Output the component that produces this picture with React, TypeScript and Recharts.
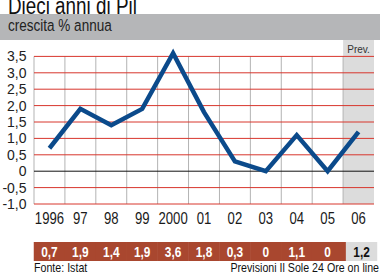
import { LineChart, Line, XAxis, YAxis, ReferenceLine, ReferenceArea } from "recharts";

const years = ["1996", "97", "98", "99", "2000", "01", "02", "03", "04", "05", "06"];
const growth = [0.7, 1.9, 1.4, 1.9, 3.6, 1.8, 0.3, 0, 1.1, 0, 1.2];
const forecastIndex = 10;
const yTicks = [-1, -0.5, 0, 0.5, 1, 1.5, 2, 2.5, 3, 3.5];

const SANS = '"Liberation Sans", Arial, sans-serif';

const data = years.map((year, i) => ({ i, year, v: growth[i] }));
const xTicks = years.map((_, i) => i);

const fmt = (v: number) => (v === 0 ? "0" : v.toFixed(1).replace(".", ","));

// no narrow face installed, so squeeze Liberation Sans horizontally
function NText({ x, y, size, anchor = "start", weight = "normal", fill = "#111", children }: any) {
  return (
    <text
      transform={`translate(${x},${y}) scale(0.82,1)`}
      textAnchor={anchor}
      fontFamily={SANS}
      fontSize={size}
      fontWeight={weight}
      fill={fill}
    >
      {children}
    </text>
  );
}

function YearTick(props: any) {
  const { x, y, payload } = props;
  return (
    <NText x={x} y={y + 11.5} size={16} anchor="middle" fill="#1a1a1a">
      {years[payload.value]}
    </NText>
  );
}

function TableTick(props: any) {
  const { x, y, payload } = props;
  const i = payload.value as number;
  const forecast = i === forecastIndex;
  const w = 31.4;
  // the grey forecast cell sits a few px right of its column in the original
  const left = forecast ? x - w / 2 + 3 : x - w / 2;
  const width = i === forecastIndex - 1 ? w + 3 : w;
  return (
    <g>
      <rect x={left} y={y + 8} width={width} height={19} fill={forecast ? "#dcdcdc" : "#a9472f"} />
      <NText x={forecast ? x + 3 : x} y={y + 22.7} size={14.5} anchor="middle" weight="bold" fill={forecast ? "#111" : "#fff"}>
        {fmt(growth[i])}
      </NText>
    </g>
  );
}

export default function App() {
  return (
    <div style={{ position: "relative", width: 380, height: 273, background: "#fff" }}>
      <style>{"body{margin:0}"}</style>
      <LineChart width={380} height={273} data={data} margin={{ top: 40, right: 6, bottom: 0, left: 0 }}>
        <XAxis
          dataKey="i"
          type="number"
          domain={[-0.5, 10.5]}
          ticks={xTicks}
          axisLine={false}
          tickLine={false}
          tickSize={0}
          tickMargin={8}
          height={30}
          interval={0}
          tick={<YearTick />}
        />
        <XAxis
          xAxisId="table"
          dataKey="i"
          type="number"
          domain={[-0.5, 10.5]}
          ticks={xTicks}
          axisLine={false}
          tickLine={false}
          tickSize={0}
          tickMargin={0}
          height={39}
          interval={0}
          tick={<TableTick />}
        />
        <YAxis
          type="number"
          domain={[-1, 4]}
          ticks={yTicks}
          tickFormatter={fmt}
          axisLine={false}
          tickLine={false}
          tickSize={0}
          tickMargin={7.5}
          width={34}
          interval={0}
          tick={{ fontFamily: SANS, fontSize: 14, fill: "#222" }}
        />
        <ReferenceArea
          x1={forecastIndex - 0.5}
          x2={forecastIndex + 0.5}
          y1={-1}
          y2={4}
          fill="#dcdcdc"
          fillOpacity={1}
          stroke="none"
          label={{ value: "Prev.", position: "insideTop", offset: 6, fill: "#333", fontSize: 10, fontFamily: SANS }}
        />
        {xTicks.map((i) => (
          <ReferenceLine
            key={"v" + i}
            segment={[
              { x: i - 0.5, y: -1 },
              { x: i - 0.5, y: 3.5 },
            ]}
            stroke="#b3b3b3"
            strokeWidth={1}
          />
        ))}
        {yTicks.map((t) => (
          <ReferenceLine key={"h" + t} y={t} stroke={t === 0 ? "#111" : "#d8362d"} strokeWidth={1} />
        ))}
        <Line
          type="linear"
          dataKey="v"
          stroke="#0b4a8b"
          strokeWidth={4.5}
          dot={false}
          isAnimationActive={false}
        />
      </LineChart>
      <svg
        width={380}
        height={273}
        style={{ position: "absolute", left: 0, top: 0, pointerEvents: "none" }}
      >
        <NText x={8} y={14} size={23} fill="#111">
          Dieci anni di Pil
        </NText>
        <rect x={0} y={14} width={380} height={26} fill="#b5b6b8" />
        <NText x={8} y={31} size={16.5} fill="#222">
          crescita % annua
        </NText>
        <NText x={34} y={272} size={13} fill="#111">
          Fonte: Istat
        </NText>
        <NText x={379} y={272} size={13} anchor="end" fill="#111">
          Previsioni Il Sole 24 Ore on line
        </NText>
      </svg>
    </div>
  );
}
